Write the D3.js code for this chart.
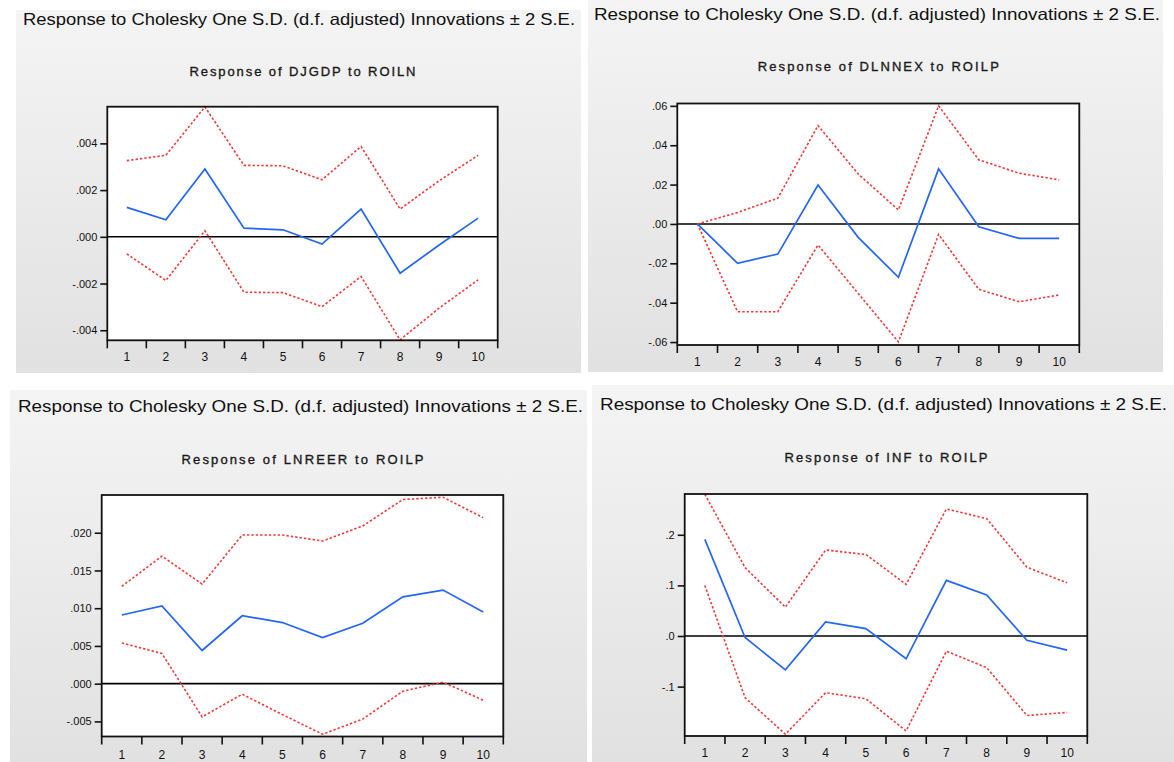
<!DOCTYPE html>
<html>
<head>
<meta charset="utf-8">
<script src="https://cdn.jsdelivr.net/npm/d3@7"></script>
<style>
  html, body { margin: 0; padding: 0; background: #ffffff; }
  svg { display: block; }
</style>
</head>
<body>
<svg id="chart" width="1174" height="762"></svg>
<script>
// Impulse-response horizons (periods after the shock)
const horizons = [1, 2, 3, 4, 5, 6, 7, 8, 9, 10];
const horizonLabels = ["1", "2", "3", "4", "5", "6", "7", "8", "9", "10"];

const headerText = "Response to Cholesky One S.D. (d.f. adjusted) Innovations \u00B1 2 S.E.";

// Response of DJGDP to ROILN
const djgdpResp  = [0.00126, 0.00073, 0.0029, 0.00037, 0.0003, -0.00031, 0.00119, -0.00156, -0.00035, 0.0008];
const djgdpUpper = [0.00326, 0.00349, 0.00556, 0.00306, 0.00304, 0.00244, 0.00387, 0.00119, 0.0024, 0.00349];
const djgdpLower = [-0.00073, -0.00187, 0.00026, -0.00237, -0.00239, -0.00299, -0.0017, -0.00441, -0.00305, -0.00184];
const djgdpDomain = [-0.00443, 0.00557];
const djgdpTicks = [-0.004, -0.002, 0, 0.002, 0.004];

// Response of DLNNEX to ROILP
const dlnnexResp  = [0, -0.02, -0.0153, 0.0198, -0.0068, -0.0271, 0.028, -0.0014, -0.0073, -0.0073];
const dlnnexUpper = [0, 0.0058, 0.0131, 0.050, 0.0254, 0.0071, 0.060, 0.0326, 0.0258, 0.0224];
const dlnnexLower = [0, -0.0446, -0.0446, -0.0107, -0.0353, -0.0599, -0.0053, -0.0332, -0.0395, -0.0361];
const dlnnexDomain = [-0.0615, 0.0612];
const dlnnexTicks = [-0.06, -0.04, -0.02, 0, 0.02, 0.04, 0.06];

// Response of LNREER to ROILP
const lnreerResp  = [0.0091, 0.0103, 0.0044, 0.009, 0.0081, 0.0061, 0.008, 0.0115, 0.0124, 0.0095];
const lnreerUpper = [0.0129, 0.0169, 0.0132, 0.0197, 0.0197, 0.0189, 0.0209, 0.0244, 0.0247, 0.022];
const lnreerLower = [0.0054, 0.004, -0.0044, -0.0014, -0.0041, -0.0067, -0.0047, -0.001, 0.0002, -0.0022];
const lnreerDomain = [-0.0070, 0.0250];
const lnreerTicks = [-0.005, 0, 0.005, 0.010, 0.015, 0.020];

// Response of INF to ROILP
const infResp  = [0.191, -0.003, -0.067, 0.028, 0.0145, -0.045, 0.11, 0.081, -0.0086, -0.028];
const infUpper = [0.28, 0.135, 0.057, 0.17, 0.161, 0.102, 0.251, 0.232, 0.136, 0.105];
const infLower = [0.1, -0.122, -0.194, -0.112, -0.124, -0.1875, -0.03, -0.0625, -0.157, -0.151];
const infDomain = [-0.1976, 0.2806];
const infTicks = [-0.1, 0, 0.1, 0.2];

// EViews-style numbers: ASCII minus, no leading zero (.004, -.02, .0)
function evFormat(spec) {
  const f = d3.format(spec);
  return v => f(v).replace("\u2212", "-").replace(/^(-?)0\./, "$1.");
}

const panels = [
  { title: "Response of DJGDP to ROILN", resp: djgdpResp, upper: djgdpUpper, lower: djgdpLower,
    domain: djgdpDomain, ticks: djgdpTicks, fmt: ".3f",
    bg: [16, 10, 565, 363], frame: [107.3, 106.7, 497.7, 340.3],
    header: { x: 23, y: 25, w: 552 }, sub: { y: 76, w: 226 }, labelY: 361 },
  { title: "Response of DLNNEX to ROILP", resp: dlnnexResp, upper: dlnnexUpper, lower: dlnnexLower,
    domain: dlnnexDomain, ticks: dlnnexTicks, fmt: ".2f",
    bg: [588, 0, 575, 372], frame: [677.3, 103.5, 1079.3, 345],
    header: { x: 594, y: 20, w: 566 }, sub: { y: 71, w: 241 }, labelY: 366 },
  { title: "Response of LNREER to ROILP", resp: lnreerResp, upper: lnreerUpper, lower: lnreerLower,
    domain: lnreerDomain, ticks: lnreerTicks, fmt: ".3f",
    bg: [10, 390, 577, 372], frame: [101.7, 495, 503.3, 736.5],
    header: { x: 18, y: 412, w: 565 }, sub: { y: 464, w: 242 }, labelY: 759 },
  { title: "Response of INF to ROILP", resp: infResp, upper: infUpper, lower: infLower,
    domain: infDomain, ticks: infTicks, fmt: ".1f",
    bg: [592, 385, 582, 377], frame: [684.7, 494, 1087.3, 736],
    header: { x: 600, y: 410, w: 567 }, sub: { y: 462, w: 203 }, labelY: 757 }
];

const svg = d3.select("#chart");
const defs = svg.append("defs");
const grad = defs.append("linearGradient")
  .attr("id", "panelGrad").attr("x1", 0).attr("y1", 0).attr("x2", 0).attr("y2", 1);
grad.append("stop").attr("offset", "0%").attr("stop-color", "#f4f4f4");
grad.append("stop").attr("offset", "100%").attr("stop-color", "#e1e1e1");

const FONT = "'Liberation Sans', Arial, sans-serif";

panels.forEach(p => {
  const g = svg.append("g");
  const [fx0, fy0, fx1, fy1] = p.frame;

  // panel background
  g.append("rect")
    .attr("x", p.bg[0]).attr("y", p.bg[1])
    .attr("width", p.bg[2]).attr("height", p.bg[3])
    .attr("fill", "url(#panelGrad)");

  // header line
  g.append("text")
    .attr("x", p.header.x).attr("y", p.header.y)
    .attr("textLength", p.header.w).attr("lengthAdjust", "spacingAndGlyphs")
    .attr("font-family", FONT).attr("font-size", 16.5).attr("fill", "#111")
    .text(headerText);

  // chart title
  g.append("text")
    .attr("x", (fx0 + fx1) / 2 - p.sub.w / 2).attr("y", p.sub.y)
    .attr("textLength", p.sub.w).attr("lengthAdjust", "spacing")
    .attr("font-family", FONT).attr("font-size", 13)
    .attr("fill", "#1a1a1a").attr("stroke", "#1a1a1a").attr("stroke-width", 0.35)
    .text(p.title);

  const x = d3.scaleBand().domain(horizons).range([fx0, fx1]);
  const y = d3.scaleLinear().domain(p.domain).range([fy1, fy0]);

  // plot area
  g.append("rect")
    .attr("x", fx0).attr("y", fy0)
    .attr("width", fx1 - fx0).attr("height", fy1 - fy0)
    .attr("fill", "#ffffff");

  // zero line
  g.append("line")
    .attr("x1", fx0).attr("x2", fx1)
    .attr("y1", y(0)).attr("y2", y(0))
    .attr("stroke", "#000").attr("stroke-width", 1.6);

  const line = d3.line()
    .x((d, i) => x(horizons[i]) + x.bandwidth() / 2)
    .y(d => y(d));

  [p.upper, p.lower].forEach(band => {
    g.append("path")
      .attr("d", line(band))
      .attr("fill", "none")
      .attr("stroke", "#f03a3a")
      .attr("stroke-width", 1.6)
      .attr("stroke-dasharray", "2.4,2");
  });

  g.append("path")
    .attr("d", line(p.resp))
    .attr("fill", "none")
    .attr("stroke", "#2365f5")
    .attr("stroke-width", 1.7);

  // frame
  g.append("rect")
    .attr("x", fx0).attr("y", fy0)
    .attr("width", fx1 - fx0).attr("height", fy1 - fy0)
    .attr("fill", "none").attr("stroke", "#111").attr("stroke-width", 1.8);

  // y axis
  const yAxis = d3.axisLeft(y)
    .tickValues(p.ticks)
    .tickFormat(evFormat(p.fmt))
    .tickSize(7).tickPadding(3);
  const ya = g.append("g").attr("transform", `translate(${fx0},0)`).call(yAxis);
  ya.select(".domain").remove();
  ya.selectAll(".tick line").attr("stroke", "#111").attr("stroke-width", 1.6);
  ya.selectAll(".tick text")
    .attr("font-family", FONT).attr("font-size", 11).attr("fill", "#111");

  // x axis: ticks on band boundaries, labels centred in each band
  const edges = horizons.map(h => x(h)).concat([fx1]);
  g.selectAll(null).data(edges).enter().append("line")
    .attr("x1", d => d).attr("x2", d => d)
    .attr("y1", fy1).attr("y2", fy1 + 8)
    .attr("stroke", "#111").attr("stroke-width", 1.6);
  g.selectAll(null).data(horizons).enter().append("text")
    .attr("x", d => x(d) + x.bandwidth() / 2)
    .attr("y", p.labelY)
    .attr("text-anchor", "middle")
    .attr("font-family", FONT).attr("font-size", 12).attr("fill", "#111")
    .text((d, i) => horizonLabels[i]);
});
</script>
</body>
</html>
